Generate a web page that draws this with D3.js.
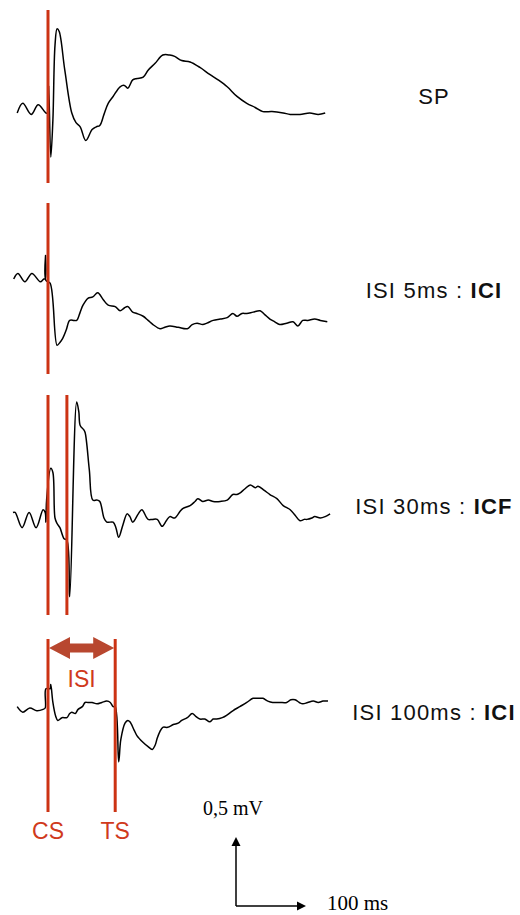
<!DOCTYPE html>
<html>
<head>
<meta charset="utf-8">
<script src="https://cdn.jsdelivr.net/npm/d3@7"></script>
<style>
  body { margin: 0; background: #fff; }
  svg { display: block; }
</style>
</head>
<body>
<svg id="mep_svg" width="520" height="915"></svg>
<script>
// time in ms (CS = 0), amplitude in mV
var spT = [-44,-36,-24,-14,-3,0,1,4,7,10,13,16,24,34,40,46,54,63,69,74,80,86,93,103,109,114,121,127,136,143,153,164,174,181,191,203,217,231,243,256,270,284,296,307,320,336,346,360,374,386,396];
var spV = [0,0.07,-0.01,0.06,0,0,0.2,-0.32,-0.05,0.49,0.61,0.59,0.31,0,-0.07,-0.1,-0.2,-0.12,-0.1,-0.09,-0.01,0.07,0.12,0.19,0.2,0.18,0.24,0.25,0.26,0.31,0.36,0.42,0.42,0.41,0.38,0.37,0.33,0.28,0.24,0.19,0.12,0.07,0.04,0.01,0.01,0,-0.01,-0.01,0,-0.01,0];

var isi5T = [-49,-43,-33,-23,-11,-6,-4,-3.5,-3,3,13,17,21,26,31,37,41,46,50,57,64,71,79,86,96,103,109,114,121,127,136,143,150,160,167,174,186,199,206,213,221,227,236,246,256,264,270,277,284,293,303,310,317,324,331,341,350,357,364,371,381,389,399];
var isi5V = [0,0.04,-0.02,0.04,-0.02,0,0,0.17,-0.01,-0.03,-0.48,-0.46,-0.43,-0.37,-0.3,-0.3,-0.3,-0.24,-0.19,-0.14,-0.13,-0.1,-0.15,-0.19,-0.2,-0.23,-0.21,-0.2,-0.24,-0.25,-0.27,-0.3,-0.33,-0.36,-0.35,-0.34,-0.35,-0.36,-0.33,-0.32,-0.33,-0.32,-0.3,-0.29,-0.28,-0.25,-0.27,-0.25,-0.25,-0.24,-0.23,-0.26,-0.29,-0.31,-0.33,-0.32,-0.31,-0.34,-0.3,-0.3,-0.29,-0.3,-0.31];

var isi30T = [-50,-47,-37,-27,-17,-7,-4,-3,-2,4,7,10,13,17,23,27,31,41,44,46,51,53,59,64,70,74,80,84,93,97,101,107,113,117,121,129,134,143,149,156,163,169,174,181,189,193,203,210,214,221,229,236,246,256,264,270,274,281,289,296,300,309,317,327,336,346,353,360,366,370,377,381,389,396,403];
var isi30V = [0.04,0.04,-0.07,0.04,-0.07,0.06,0.04,-0.03,0.13,0.36,0.33,0,-0.04,-0.07,-0.15,-0.16,-0.57,0.84,0.77,0.67,0.64,0.62,0.35,0.13,0.13,0.12,0,-0.03,-0.03,-0.07,-0.14,-0.05,0.03,0.01,-0.03,0.03,0.06,-0.01,-0.01,-0.01,-0.06,-0.02,0.01,0,0.05,0.07,0.09,0.12,0.14,0.12,0.13,0.12,0.12,0.13,0.17,0.17,0.18,0.21,0.24,0.22,0.23,0.2,0.17,0.14,0.09,0.06,0.02,-0.02,-0.01,-0.01,0,0.01,0,0.01,0.03];

var isi100T = [-44,-36,-26,-16,-7,-4,-3,3,4,7,11,14,20,27,31,34,39,43,49,53,57,63,70,77,84,89,93,96,101,104,110,114,117,123,127,136,143,149,153,156,160,164,171,179,186,191,199,206,211,217,224,231,236,241,249,256,264,274,284,293,300,307,314,321,331,341,347,353,359,364,371,379,386,393,400];
var isi100V = [0.01,-0.03,0,-0.02,-0.01,0,0.14,0.14,0.17,0.04,-0.06,-0.09,-0.07,-0.07,-0.04,-0.03,-0.04,-0.01,0.01,0.04,0.04,0.04,0.03,0.04,0.05,0.04,0.01,0.01,-0.39,-0.23,-0.11,-0.09,-0.1,-0.16,-0.2,-0.25,-0.28,-0.3,-0.27,-0.22,-0.17,-0.14,-0.14,-0.12,-0.11,-0.09,-0.07,-0.04,-0.06,-0.08,-0.08,-0.1,-0.08,-0.08,-0.07,-0.05,-0.02,0.01,0.04,0.07,0.07,0.07,0.05,0.04,0.04,0.04,0.06,0.06,0.04,0.03,0.04,0.05,0.04,0.05,0.05];

var traceLabels = ["SP", "ISI 5ms : ", "ISI 30ms : ", "ISI 100ms : "];
var traceEffects = ["", "ICI", "ICF", "ICI"];
var stimTimes = [[0], [0], [0, 27], [0, 96]];

var svg = d3.select("svg#mep_svg");
var red = "#cc3314";

// 100 ms and 0.5 mV as in the scale bar
var x = d3.scaleLinear().domain([0, 100]).range([48, 118]);
var panels = [
  {base: 113, top: 10, bottom: 183, label: 104},
  {base: 279, top: 203, bottom: 374, label: 298},
  {base: 518, top: 395, bottom: 615, label: 514},
  {base: 708, top: 639, bottom: 812, label: 720}
];
var series = [[spT, spV], [isi5T, isi5V], [isi30T, isi30V], [isi100T, isi100V]];

panels.forEach(function (p, i) {
  var y = d3.scaleLinear().domain([0, 0.5]).range([p.base, p.base - 69]);
  var pts = d3.zip(series[i][0], series[i][1]);
  var line = d3.line()
      .x(d => x(d[0]))
      .y(d => y(d[1]))
      .curve(d3.curveCatmullRom.alpha(0.5));
  svg.append("path").datum(pts)
     .attr("d", line)
     .attr("fill", "none")
     .attr("stroke", "#000")
     .attr("stroke-width", 1.5)
     .attr("stroke-linejoin", "round");

  svg.selectAll("line.stim" + i).data(stimTimes[i]).enter()
     .append("line").attr("class", "stim" + i)
     .attr("x1", d => x(d)).attr("x2", d => x(d))
     .attr("y1", p.top).attr("y2", p.bottom)
     .attr("stroke", red).attr("stroke-width", 3);

  var t = svg.append("text")
     .attr("x", 434).attr("y", p.label)
     .attr("text-anchor", "middle")
     .style("font-family", "Liberation Sans, Arial, sans-serif")
     .style("font-size", "22px")
     .style("letter-spacing", "1.2px")
     .attr("fill", "#111");
  t.append("tspan").text(traceLabels[i]);
  if (traceEffects[i]) t.append("tspan").style("font-weight", "bold").text(traceEffects[i]);
});

// ISI double arrow on the last trace
var a0 = x(stimTimes[3][0]) + 1, a1 = x(stimTimes[3][1]) - 1, ay = 648,
    hl = 21, hh = 11, sh = 4.5;
svg.append("path")
   .attr("d", "M" + a0 + "," + ay +
        "L" + (a0 + hl) + "," + (ay - hh) + "L" + (a0 + hl) + "," + (ay - sh) +
        "L" + (a1 - hl) + "," + (ay - sh) + "L" + (a1 - hl) + "," + (ay - hh) +
        "L" + a1 + "," + ay +
        "L" + (a1 - hl) + "," + (ay + hh) + "L" + (a1 - hl) + "," + (ay + sh) +
        "L" + (a0 + hl) + "," + (ay + sh) + "L" + (a0 + hl) + "," + (ay + hh) + "Z")
   .attr("fill", "#b8472f");

function redText(s, tx, ty) {
  svg.append("text").attr("x", tx).attr("y", ty)
     .attr("text-anchor", "middle")
     .style("font-family", "Liberation Sans, Arial, sans-serif")
     .style("font-size", "23px")
     .attr("fill", "#d03a1c")
     .text(s);
}
redText("ISI", (x(stimTimes[3][0]) + x(stimTimes[3][1])) / 2, 687);
redText("CS", x(stimTimes[3][0]), 839);
redText("TS", x(stimTimes[3][1]), 839);

// scale bar
var sx = 236, sy = 906;
var ys = d3.scaleLinear().domain([0, 0.5]).range([sy, sy - 69]);
var bar = svg.append("g").attr("stroke", "#000").attr("stroke-width", 1.5);
bar.append("line").attr("x1", sx).attr("x2", sx).attr("y1", sy).attr("y2", ys(0.5) + 8);
bar.append("line").attr("x1", sx).attr("x2", sx + x(100) - x(0) - 8).attr("y1", sy).attr("y2", sy);
svg.append("path")
   .attr("d", "M" + sx + "," + ys(0.5) + "l-4.5,9l9,0z")
   .attr("fill", "#000");
svg.append("path")
   .attr("d", "M" + (sx + x(100) - x(0)) + "," + sy + "l-9,-4.5l0,9z")
   .attr("fill", "#000");
svg.append("text").attr("x", 203).attr("y", 815)
   .style("font-family", "Liberation Serif, DejaVu Serif, serif")
   .style("font-size", "20px")
   .text("0,5 mV");
svg.append("text").attr("x", 327).attr("y", 910)
   .style("font-family", "Liberation Serif, DejaVu Serif, serif")
   .style("font-size", "21px")
   .text("100 ms");
</script>
</body>
</html>
